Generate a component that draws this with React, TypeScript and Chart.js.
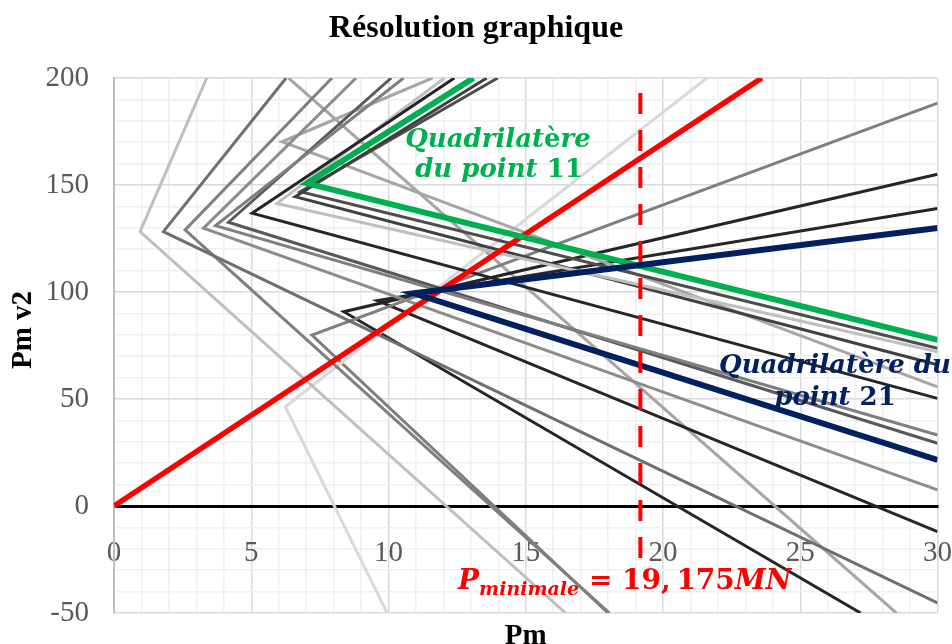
import { useEffect, useRef } from 'react';
import { Chart, registerables } from 'chart.js';

Chart.register(...registerables);

// ---- axis tick labels ----
const pmTickLabels = [0, 5, 10, 15, 20, 25, 30];
const pmv2TickLabels = [-50, 0, 50, 100, 150, 200];

// ---- quadrilatères (upper half-line end, apex, lower half-line end), in (Pm, Pm v2) ----
const quadTopPm = [3.38, 6.27, 7.94, 8.82, 10.55, 10.1, 12.4, 12.04, 13.58, 13.98, 11.6, 21.6, 30, 30, 30];
const quadTopPmv2 = [200, 200, 200, 200, 200, 200, 200, 200, 200, 200, 200, 200, 188.3, 155, 139];
const quadApexPm = [0.95, 1.8, 2.59, 3.26, 3.7, 4.17, 5.03, 5.94, 6.6, 6.79, 6.12, 6.24, 7.21, 8.37, 9.59];
const quadApexPmv2 = [128.2, 128.2, 129, 129.8, 131, 132.6, 136.8, 141.4, 144.5, 146.9, 170.2, 46.4, 79.9, 90.8, 96];
const quadLowPm = [16.45, 30, 18.05, 30, 30, 30, 30, 30, 30, 30, 30, 9.95, 18.0, 27.2, 30];
const quadLowPmv2 = [-50, -45.3, -50, 7.5, 33.2, 29.3, 50.3, 72.1, 66, 73.7, 55.7, -50, -50, -50, -12];

// Quadrilatère du point 11 (green)
const point11Pm = [13.1, 7.03, 30];
const point11Pmv2 = [200, 150.8, 77.6];
// Quadrilatère du point 21 (navy)
const point21Pm = [30, 10.92, 30];
const point21Pmv2 = [129.9, 99.4, 21.5];
// Single half-line coming from above the plot
const extraLinePm = [6.36, 28.5];
const extraLinePmv2 = [200, -50];
// Red line through the origin
const redLinePm = [0, 23.6];
const redLinePmv2 = [0, 200];
// Minimal prestress
const pMinimale = 19.175;
const pMinDashPmv2 = [193, -26];

// styles (kept apart from the data)
const quadColors = ['#BFBFBF', '#6F6F6F', '#7F7F7F', '#8C8C8C', '#7F7F7F', '#595959', '#262626', '#BFBFBF', '#404040', '#4D4D4D', '#A6A6A6', '#D9D9D9', '#7F7F7F', '#262626', '#262626'];

const pts = (xs: number[], ys: number[]) => xs.map((x, i) => ({ x, y: ys[i] }));

type Run = { t: string; f: string; dy?: number };
function drawRuns(ctx: CanvasRenderingContext2D, runs: Run[], x: number, y: number, align: 'left' | 'center') {
  let total = 0;
  runs.forEach((r) => {
    ctx.font = r.f;
    total += ctx.measureText(r.t).width;
  });
  let cx = align === 'center' ? x - total / 2 : x;
  ctx.textAlign = 'left';
  ctx.textBaseline = 'alphabetic';
  runs.forEach((r) => {
    ctx.font = r.f;
    ctx.fillText(r.t, cx, y + (r.dy || 0));
    cx += ctx.measureText(r.t).width;
  });
}

const annotations = {
  id: 'annotations',
  afterDraw(chart: any) {
    const ctx: CanvasRenderingContext2D = chart.ctx;
    const ca = chart.chartArea;
    ctx.save();
    const bi = 'italic bold 26px "DejaVu Serif"';
    const b = 'bold 26px "DejaVu Serif"';
    // green label
    ctx.fillStyle = '#00B050';
    drawRuns(ctx, [{ t: 'Quadrilat', f: bi }, { t: 'è', f: b }, { t: 're', f: bi }], 498, 147, 'center');
    drawRuns(ctx, [{ t: 'du point ', f: bi }, { t: '11', f: b }], 499, 177, 'center');
    // navy label
    ctx.fillStyle = '#002060';
    drawRuns(ctx, [{ t: 'Quadrilat', f: bi }, { t: 'è', f: b }, { t: 're du', f: bi }], 719, 373, 'left');
    drawRuns(ctx, [{ t: 'point ', f: bi }, { t: '21', f: b }], 835, 405, 'center');
    // red label
    ctx.fillStyle = '#FF0000';
    drawRuns(
      ctx,
      [
        { t: 'P', f: 'italic bold 28px "DejaVu Serif"' },
        { t: 'minimale', f: 'italic bold 19px "DejaVu Serif"', dy: 6 },
        { t: ' = 19,\u2009175', f: 'bold 28px "DejaVu Serif"' },
        { t: 'MN', f: 'italic bold 28px "DejaVu Serif"' },
      ],
      458,
      589,
      'left'
    );
    // axis titles
    ctx.fillStyle = '#000000';
    ctx.font = 'bold 29px "Liberation Serif"';
    ctx.textAlign = 'center';
    ctx.textBaseline = 'alphabetic';
    ctx.fillText('Pm', (ca.left + ca.right) / 2, 644);
    ctx.translate(31, 330);
    ctx.rotate(-Math.PI / 2);
    ctx.fillText('Pm v2', 0, 0);
    ctx.restore();
  },
};

export default function App() {
  const ref = useRef<HTMLCanvasElement>(null);
  useEffect(() => {
    document.body.style.margin = '0';
    const lineBase = { showLine: true, pointRadius: 0, pointHoverRadius: 0, fill: false, tension: 0, clip: 0, borderJoinStyle: 'miter' as const };
    const datasets: any[] = [];
    datasets.push({ ...lineBase, label: 'Pm minimale', data: pts([pMinimale, pMinimale], pMinDashPmv2), borderColor: '#FF0000', borderWidth: 4, borderDash: [21, 16] });
    datasets.push({ ...lineBase, label: 'Point 21', data: pts(point21Pm, point21Pmv2), borderColor: '#002060', borderWidth: 6 });
    datasets.push({ ...lineBase, label: 'Point 11', data: pts(point11Pm, point11Pmv2), borderColor: '#00B050', borderWidth: 6 });
    datasets.push({ ...lineBase, label: 'Droite', data: pts(redLinePm, redLinePmv2), borderColor: '#FF0000', borderWidth: 5.5 });
    quadApexPm.forEach((_, i) => {
      datasets.push({
        ...lineBase,
        label: 'Q' + i,
        data: pts([quadTopPm[i], quadApexPm[i], quadLowPm[i]], [quadTopPmv2[i], quadApexPmv2[i], quadLowPmv2[i]]),
        borderColor: quadColors[i],
        borderWidth: 3,
      });
    });
    datasets.push({ ...lineBase, label: 'extra', data: pts(extraLinePm, extraLinePmv2), borderColor: '#A6A6A6', borderWidth: 3 });

    const chart = new Chart(ref.current!, {
      type: 'scatter',
      data: { datasets },
      plugins: [annotations],
      options: {
        animation: false,
        responsive: true,
        maintainAspectRatio: false,
        events: [],
        layout: { padding: { left: 0, right: 0, top: 0, bottom: 31 } },
        plugins: {
          legend: { display: false },
          tooltip: { enabled: false },
          title: {
            display: true,
            text: 'Résolution graphique',
            color: '#000000',
            font: { family: '"Liberation Serif"', size: 32, weight: 'bold' },
            padding: { top: 10, bottom: 29.6 },
          },
        },
        scales: {
          x: {
            type: 'linear',
            min: 0,
            max: 30,
            position: { y: 0 } as any,
            grid: {
              drawTicks: true,
              tickLength: 30,
              tickColor: 'rgba(0,0,0,0)',
              color: (c: any) => (pmTickLabels.includes(c.tick?.value) ? '#D9D9D9' : '#F0F0F0'),
              lineWidth: 1.5,
            },
            border: { color: '#000000', width: 3 },
            ticks: {
              stepSize: 1,
              autoSkip: false,
              maxRotation: 0,
              padding: 0,
              color: '#595959',
              font: { family: '"Liberation Serif"', size: 29 },
              callback: (v: any) => (pmTickLabels.includes(Number(v)) ? String(v) : ''),
            },
          },
          y: {
            type: 'linear',
            min: -50,
            max: 200,
            position: 'left',
            afterFit: (s: any) => {
              s.width = 114;
            },
            grid: {
              drawTicks: true,
              tickLength: 25,
              tickColor: 'rgba(0,0,0,0)',
              color: (c: any) => (pmv2TickLabels.includes(c.tick?.value) ? '#D9D9D9' : '#F0F0F0'),
              lineWidth: 1.5,
            },
            border: { color: '#BFBFBF', width: 2 },
            ticks: {
              stepSize: 10,
              autoSkip: false,
              padding: 0,
              color: '#595959',
              font: { family: '"Liberation Serif"', size: 29 },
              callback: (v: any) => (pmv2TickLabels.includes(Number(v)) ? String(v) : ''),
            },
          },
        },
      },
    });
    return () => chart.destroy();
  }, []);
  return (
    <div style={{ width: 952, height: 644, position: 'relative' }}>
      <canvas ref={ref} />
    </div>
  );
}
